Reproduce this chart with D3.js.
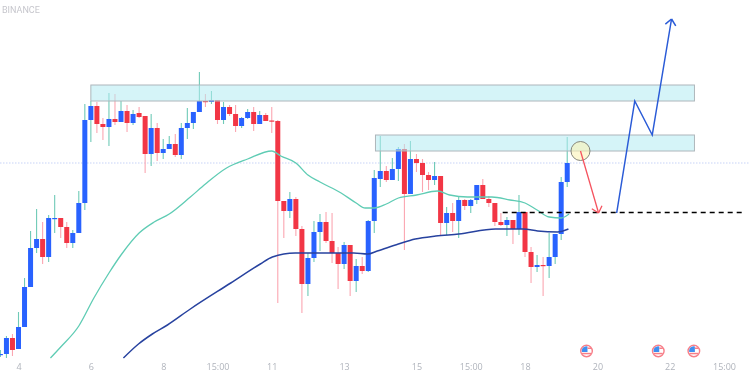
<!DOCTYPE html>
<html>
<head>
<meta charset="utf-8">
<script src="https://cdnjs.cloudflare.com/ajax/libs/d3/7.8.5/d3.min.js"></script>
<style>
    html, body { margin: 0; padding: 0; background: #fff; }
    svg { display: block; filter: blur(0.35px); }
    .axis text { font-family: "Open Sans", sans-serif; font-size: 9px; fill: #b0b4bc; }
</style>
</head>
<body>
<svg id="svgChart"></svg>
<script>
// DATA ////////////////////////////////////////////////////////////////////////////////

// bars are numbered from the "4" tick, the first bars sit left of it
var first_bar = -3;

var opens = [20, 21, 37, 26, 48, 88, 127, 136, 118, 156.5, 157, 148, 132, 142, 172, 255, 269, 251, 248, 256, 253, 264, 252, 262, 259, 221, 247, 222, 226, 231, 220, 247, 252, 263, 274, 273, 275, 255, 268, 261, 249, 257, 263, 251, 260, 254.5, 254, 174, 164, 176, 146, 91, 117, 143, 153, 134, 122, 111, 130, 94, 109, 104, 154, 196, 204, 195, 206, 226, 181, 216, 212, 200, 195, 199, 152, 162, 154, 175, 169, 175, 190, 176, 172, 153, 150, 155, 146, 163, 123, 108, 110, 109, 118, 141, 193];
var highs = [25, 39, 41, 63, 97, 144, 166, 153, 160, 180, 157, 153, 145, 184, 271, 274, 273, 257, 282, 281, 274, 270, 265, 268, 259, 261, 252, 236, 239, 241, 252, 267, 263, 303, 281, 284, 275, 273, 270, 270, 258, 266, 268, 264, 262, 268, 255, 174, 183, 178, 149, 122, 154, 161, 163, 162, 128, 133, 130, 116, 118, 155, 205, 239, 209, 217, 228, 231, 234, 221, 216, 203, 213, 199, 168, 172, 179, 176, 176, 190, 196, 179, 172, 162, 158, 155, 180, 163, 128, 120, 118, 142, 141, 198, 238];
var lows = [18, 17, 19, 26, 48, 88, 122, 111, 113, 142, 137, 127, 127, 142, 165, 233, 242, 235, 229, 250, 253, 243, 250, 257, 202, 209, 214, 216, 226, 218, 216, 236, 246, 263, 268, 271, 251, 251, 259, 243, 247, 256, 244, 251, 254, 242, 72, 137, 157, 139, 62, 79, 113, 124, 132, 112, 86, 106, 79, 83, 101, 103, 142, 188, 193, 195, 194, 125, 181, 203, 183, 185, 190, 140, 140, 143, 137, 165, 162, 171, 176, 168, 149, 149, 139, 131, 140, 118, 92, 103, 79, 97, 111, 135, 188];
var closes = [21, 37, 25, 48, 88, 127, 136, 118, 157, 157, 148, 132, 142, 172, 255, 269, 251, 248, 256, 253, 264, 252, 261, 258, 221, 247, 222, 226, 231, 220, 247, 252, 263, 274, 273, 275, 255, 268, 261, 249, 257, 263, 251, 260, 254, 253.5, 174, 164, 176, 146, 91, 117, 143, 153, 134, 122, 111, 130, 94, 109, 104, 154, 197, 204, 195, 206, 226, 181, 216, 212, 200, 195, 199, 152, 162, 154, 175, 169, 175, 190, 176, 172, 153, 150, 155, 146, 163, 123, 108, 110, 109, 118, 141, 193, 212];

var fast_ma_bars = [5.3, 7, 10, 12.5, 15, 17, 20, 22.5, 25, 28.5, 31, 34.5, 38, 42, 43.5, 46, 48, 50, 53.5, 56, 57.5, 59, 61, 63, 66, 69.5, 71.5, 74.5, 78.5, 81.5, 84, 86, 88, 90, 91.3];
var fast_ma_values = [17, 28, 49, 77, 102, 120, 142, 153, 161, 178, 191, 207, 216, 224, 219, 212, 200, 193, 182, 172, 167, 167, 171, 177, 180, 184, 180, 178, 178, 175, 172, 165, 158, 157, 161];

var slow_ma_bars = [17.4, 19.9, 22.2, 24.7, 28.5, 35.2, 40.1, 42.1, 45.9, 51.2, 55.6, 57.9, 59.5, 63, 65.8, 69.2, 73, 79.1, 83.7, 86.1, 89.4, 91.2];
var slow_ma_values = [17, 31, 41, 50, 66, 92, 111, 118, 122, 122, 122, 121, 124, 131, 136, 139, 141, 146, 146, 144, 143, 146];

var zone_starts = [12, 59.2];
var zone_ends = [112.1, 112.1];
var zone_tops = [290, 240];
var zone_bottoms = [274, 224];

var last_price = 212;
var target_level = 162;
var target_from = 80.3;
var target_to = 120.4;

var circle_bar = 93.2;
var circle_price = 224;

var down_arrow_bars = [93.2, 96.2];
var down_arrow_prices = [224, 162];
var up_path_bars = [99.2, 102.2, 105.1, 108.3];
var up_path_prices = [162, 274, 240, 356];

var flag_bars = [94.2, 106.1, 112];

var tick_bars = [0, 12, 24, 33, 42, 54, 66, 75, 84, 96, 108, 117];
var tick_labels = ["4", "6", "8", "15:00", "11", "13", "15", "15:00", "18", "20", "22", "15:00"];

// SETUP ///////////////////////////////////////////////////////////////////////////////

const CHART_WIDTH = 750;
const CHART_HEIGHT = 375;
const AXIS_Y = 361;
const BODY_WIDTH = 5;

const UP_COLOUR = "#2962ff";
const DOWN_COLOUR = "#f23645";
const UP_WICK = "#6fcab7";
const DOWN_WICK = "#fba6b1";
const ARROW_RED = "#f5535f";
const ARROW_BLUE = "#2a5bd7";

var svg_chart = d3.select("#svgChart")
    .attr("width", CHART_WIDTH)
    .attr("height", CHART_HEIGHT);

var x = d3.scaleLinear().domain([0, 117]).range([18.5, 724]);
var y = d3.scaleLinear().domain([0, 375]).range([375, 0]);

var bars = opens.map(function (o, i) {
    return { bar: first_bar + i, open: o, high: highs[i], low: lows[i], close: closes[i], up: closes[i] >= o };
});

var line = d3.line()
    .x(function (d) { return x(d[0]); })
    .y(function (d) { return y(d[1]); });

var ma_line = d3.line()
    .curve(d3.curveMonotoneX)
    .x(function (d) { return x(d[0]); })
    .y(function (d) { return y(d[1]); });

// DRAW ////////////////////////////////////////////////////////////////////////////////

svg_chart.append("text")
    .attr("x", 2)
    .attr("y", 13)
    .style("font-family", "Roboto, sans-serif")
    .style("font-size", "9px")
    .style("fill", "#c6c6cc")
    .text("BINANCE");

// last price line
svg_chart.append("line")
    .attr("x1", 0)
    .attr("x2", CHART_WIDTH)
    .attr("y1", y(last_price))
    .attr("y2", y(last_price))
    .attr("stroke", "#c7d3f7")
    .attr("stroke-dasharray", "1.5,1.5");

// candles
svg_chart.append("g")
    .selectAll("line")
    .data(bars)
    .enter().append("line")
        .attr("x1", function (d) { return x(d.bar); })
        .attr("x2", function (d) { return x(d.bar); })
        .attr("y1", function (d) { return y(d.high); })
        .attr("y2", function (d) { return y(d.low); })
        .attr("stroke", function (d) { return d.up ? UP_WICK : DOWN_WICK; })
        .attr("stroke-width", 1.1);

svg_chart.append("g")
    .selectAll("rect")
    .data(bars)
    .enter().append("rect")
        .attr("x", function (d) { return x(d.bar) - BODY_WIDTH / 2; })
        .attr("width", BODY_WIDTH)
        .attr("y", function (d) { return y(Math.max(d.open, d.close)); })
        .attr("height", function (d) { return Math.max(1.2, Math.abs(y(d.open) - y(d.close))); })
        .attr("fill", function (d) { return d.up ? UP_COLOUR : DOWN_COLOUR; });

// moving averages
svg_chart.append("path")
    .datum(d3.zip(fast_ma_bars, fast_ma_values))
    .attr("d", ma_line)
    .attr("fill", "none")
    .attr("stroke", "#5fccb4")
    .attr("stroke-width", 1.3);

svg_chart.append("path")
    .datum(d3.zip(slow_ma_bars, slow_ma_values))
    .attr("d", ma_line)
    .attr("fill", "none")
    .attr("stroke", "#27429f")
    .attr("stroke-width", 1.5);

// supply zones
svg_chart.append("g")
    .selectAll("rect")
    .data(d3.range(zone_starts.length))
    .enter().append("rect")
        .attr("x", function (i) { return x(zone_starts[i]); })
        .attr("width", function (i) { return x(zone_ends[i]) - x(zone_starts[i]); })
        .attr("y", function (i) { return y(zone_tops[i]); })
        .attr("height", function (i) { return y(zone_bottoms[i]) - y(zone_tops[i]); })
        .attr("fill", "#b2ebf2")
        .attr("fill-opacity", 0.55)
        .attr("stroke", "#aeb6bb")
        .attr("stroke-width", 1);

// target level
svg_chart.append("line")
    .attr("x1", x(target_from))
    .attr("x2", x(target_to))
    .attr("y1", y(target_level) - 0.5)
    .attr("y2", y(target_level) - 0.5)
    .attr("stroke", "#000")
    .attr("stroke-width", 1.4)
    .attr("stroke-dasharray", "5,4");

// reaction circle
svg_chart.append("circle")
    .attr("cx", x(circle_bar))
    .attr("cy", y(circle_price))
    .attr("r", 9.5)
    .attr("fill", "#fbf3b5")
    .attr("fill-opacity", 0.6)
    .attr("stroke", "#85857a")
    .attr("stroke-width", 1);

// draws a polyline with an open arrow head on its last point
function drawArrow(points, colour, width) {
    svg_chart.append("path")
        .datum(points)
        .attr("d", line)
        .attr("fill", "none")
        .attr("stroke", colour)
        .attr("stroke-width", width)
        .attr("stroke-linejoin", "miter");

    var tip = points[points.length - 1];
    var prev = points[points.length - 2];
    var angle = Math.atan2(y(tip[1]) - y(prev[1]), x(tip[0]) - x(prev[0]));
    [-1, 1].forEach(function (side) {
        var a = angle + Math.PI + side * 0.72;
        svg_chart.append("line")
            .attr("x1", x(tip[0]))
            .attr("y1", y(tip[1]))
            .attr("x2", x(tip[0]) + 8 * Math.cos(a))
            .attr("y2", y(tip[1]) + 8 * Math.sin(a))
            .attr("stroke", colour)
            .attr("stroke-width", width);
    });
}

drawArrow(d3.zip(down_arrow_bars, down_arrow_prices), ARROW_RED, 1.3);
drawArrow(d3.zip(up_path_bars, up_path_prices), ARROW_BLUE, 1.5);

// economic event flags
var flags = svg_chart.append("g")
    .selectAll("g")
    .data(flag_bars)
    .enter().append("g")
        .attr("transform", function (d) { return "translate(" + x(d) + ",351)"; });

flags.append("circle")
    .attr("r", 5.8)
    .attr("fill", "#fff")
    .attr("stroke", "#f77f89")
    .attr("stroke-width", 1.4);

flags.append("path")
    .attr("d", "M-4.6,1 A4.6,4.6 0 0 1 1,-4.6 L1,1 Z")
    .attr("fill", "#3f8fef");

flags.append("rect")
    .attr("x", 1)
    .attr("y", -3.5)
    .attr("width", 3.5)
    .attr("height", 1.5)
    .attr("fill", "#f77f89");

flags.append("rect")
    .attr("x", -4.5)
    .attr("y", 1.8)
    .attr("width", 9)
    .attr("height", 1.5)
    .attr("fill", "#f77f89");

// time axis
var axis = svg_chart.append("g")
    .attr("class", "axis")
    .attr("transform", "translate(0," + AXIS_Y + ")")
    .call(d3.axisBottom(x)
        .tickValues(tick_bars)
        .tickSize(0)
        .tickFormat(function (d, i) { return tick_labels[i]; }));

axis.select(".domain").remove();
</script>
</body>
</html>
